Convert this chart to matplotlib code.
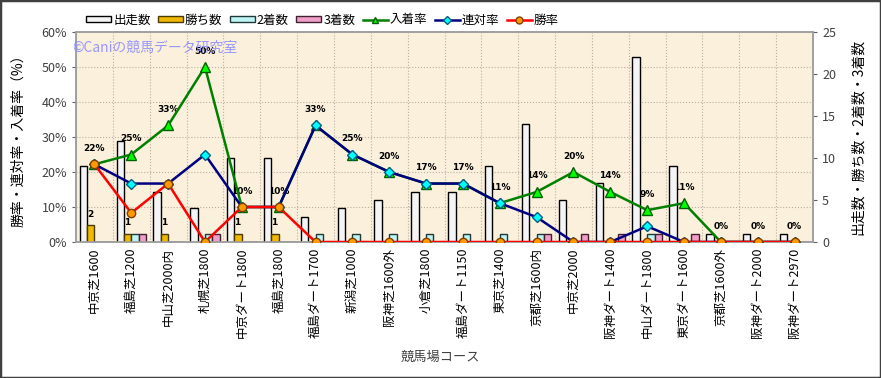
import numpy as np
import matplotlib
matplotlib.use("Agg")
import matplotlib.pyplot as plt
import matplotlib.transforms as mtransforms
from matplotlib.patches import Patch, Rectangle
from matplotlib.lines import Line2D

plt.rcParams['font.family'] = ['Noto Sans CJK JP', 'DejaVu Sans']

# course names
courses = ['中京芝1600', '福島芝1200', '中山芝2000内', '札幌芝1800', '中京ダート1800',
           '福島芝1800', '福島ダート1700', '新潟芝1000', '阪神芝1600外', '小倉芝1800',
           '福島ダート1150', '東京芝1400', '京都芝1600内', '中京芝2000', '阪神ダート1400',
           '中山ダート1800', '東京ダート1600', '京都芝1600外', '阪神ダート2000', '阪神ダート2970']

# counts (right axis)
runs = [9, 12, 6, 4, 10, 10, 3, 4, 5, 6, 6, 9, 14, 5, 7, 22, 9, 1, 1, 1]
wins = [2, 1, 1, 0, 1, 1, 0, 0, 0, 0, 0, 0, 0, 0, 0, 0, 0, 0, 0, 0]
seconds = [0, 1, 0, 1, 0, 0, 1, 1, 1, 1, 1, 1, 1, 0, 0, 1, 0, 0, 0, 0]
thirds = [0, 1, 0, 1, 0, 0, 0, 0, 0, 0, 0, 0, 1, 1, 1, 1, 1, 0, 0, 0]

# rates in % (left axis)
win_rate = [22.2, 8.3, 16.7, 0, 10, 10, 0, 0, 0, 0, 0, 0, 0, 0, 0, 0, 0, 0, 0, 0]
quin_rate = [22.2, 16.7, 16.7, 25, 10, 10, 33.3, 25, 20, 16.7, 16.7, 11.1, 7.1, 0, 0, 4.5, 0, 0, 0, 0]
place_rate = [22.2, 25, 33.3, 50, 10, 10, 33.3, 25, 20, 16.7, 16.7, 11.1, 14.3, 20, 14.3, 9.1, 11.1, 0, 0, 0]

x = np.arange(len(courses))
w = 0.2

fig = plt.figure(figsize=(8.81, 3.78), dpi=100)
ax = fig.add_axes([76 / 881, 136 / 378, 737 / 881, 210 / 378])
ax.set_facecolor('#FAF0DC')
ax2 = ax.twinx()

# bars (count axis, drawn underneath)
ax.bar(x - 1.5 * w, runs, w, color='#F4F4F4', edgecolor='black', lw=1, zorder=3)
ax.bar(x - 0.5 * w, wins, w, color='#F0B800', edgecolor='#4A3C00', lw=1, zorder=3)
ax.bar(x + 0.5 * w, seconds, w, color='#BFF4F4', edgecolor='#203838', lw=1, zorder=3)
ax.bar(x + 1.5 * w, thirds, w, color='#F0A0C8', edgecolor='#402030', lw=1, zorder=3)
ax.set_ylim(0, 25)
ax.set_xlim(-0.5, len(courses) - 0.5)

# grid behind bars
ax.set_xticks(np.arange(-0.5, len(courses), 1), minor=True)
ax.grid(which='minor', axis='x', ls=':', color='#B8B0A0', lw=0.8, zorder=1)
ax.tick_params(axis='x', which='minor', length=0)
blend = mtransforms.blended_transform_factory(ax.transAxes, ax2.transData)
for p in range(10, 60, 10):
    ax.plot([0, 1], [p, p], transform=blend, ls=':', color='#B8B0A0', lw=0.8, zorder=1)

# labels drawn behind the bars
for i in range(len(courses)):
    ax.annotate(f'{round(place_rate[i])}%', (x[i], place_rate[i]), xycoords=ax2.transData,
                xytext=(0, 11.5), textcoords='offset points', ha='center', va='center',
                fontsize=6.5, fontweight='bold', family='DejaVu Sans', zorder=2)
    if wins[i] > 0:
        ax.annotate(str(wins[i]), (x[i] - 0.6 * w, wins[i]), xytext=(0, 8),
                    textcoords='offset points', ha='center', va='center',
                    fontsize=6.5, fontweight='bold', family='DejaVu Sans', zorder=2)

# lines (rate axis, on top)
ax2.plot(x, place_rate, color='#008000', lw=1.8, marker='^', ms=7,
         mfc='#00FF00', mec='#006000', zorder=3)
ax2.plot(x, quin_rate, color='#000080', lw=1.8, marker='D', ms=5,
         mfc='#00FFFF', mec='#006080', zorder=4)
ax2.plot(x, win_rate, color='#FF0000', lw=1.8, marker='o', ms=6,
         mfc='#FF9900', mec='#804000', zorder=5)
ax2.set_ylim(0, 60)
ax2.set_yticks(range(0, 61, 10))
ax2.set_yticklabels([f'{v}%' for v in range(0, 61, 10)])

# axis sides: counts on the right, rates on the left
ax.yaxis.tick_right()
ax.set_yticks(range(0, 26, 5))
ax2.yaxis.tick_left()
ax.tick_params(axis='y', labelsize=9, labelcolor='#404040', length=3, color='#606060')
ax2.tick_params(axis='y', labelsize=9, labelcolor='#404040', length=3, color='#606060')
ax.set_xticks(x)
ax.set_xticklabels(courses, rotation=90, fontsize=9)
ax.tick_params(axis='x', which='major', length=0, pad=4)

for a in (ax, ax2):
    for s in a.spines.values():
        s.set_color('#A0A0A0')
        s.set_linewidth(1.2)

fig.text(18 / 881, 1 - 137 / 378, '勝率・連対率・入着率（%）', rotation=90,
         ha='center', va='center', fontsize=10)
fig.text(858 / 881, 1 - 137 / 378, '出走数・勝ち数・2着数・3着数', rotation=90,
         ha='center', va='center', fontsize=10)
fig.text(440 / 881, 1 - 357 / 378, '競馬場コース', ha='center', va='center',
         fontsize=9.5, color='#404040')
fig.text(72 / 881, 1 - 48 / 378, '©Caniの競馬データ研究室', ha='left', va='center',
         fontsize=10, color='#8888FF', alpha=0.85)

# legend
handles = [
    Patch(facecolor='#F4F4F4', edgecolor='black'),
    Patch(facecolor='#F0B800', edgecolor='#4A3C00'),
    Patch(facecolor='#BFF4F4', edgecolor='#203838'),
    Patch(facecolor='#F0A0C8', edgecolor='#402030'),
    Line2D([], [], color='#008000', lw=1.8, marker='^', ms=5, mfc='#00FF00', mec='#006000'),
    Line2D([], [], color='#000080', lw=1.8, marker='D', ms=4, mfc='#00FFFF', mec='#006080'),
    Line2D([], [], color='#FF0000', lw=1.8, marker='o', ms=5, mfc='#FF9900', mec='#804000'),
]
labels = ['出走数', '勝ち数', '2着数', '3着数', '入着率', '連対率', '勝率']
fig.legend(handles, labels, loc='center left', bbox_to_anchor=(80 / 881, 1 - 20 / 378),
           ncol=7, frameon=False, fontsize=9, handlelength=2.0, handleheight=0.45,
           handletextpad=0.15, columnspacing=0.6, borderpad=0)

fig.patches.append(Rectangle((0, 0), 1, 1, transform=fig.transFigure, fill=False,
                             edgecolor='#404040', lw=2.5))

fig.savefig('out.png', dpi=100)
